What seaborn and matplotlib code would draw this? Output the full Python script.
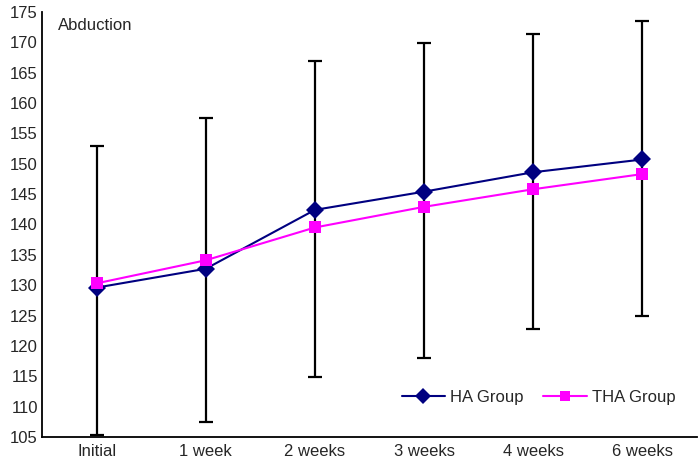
import matplotlib
matplotlib.use("Agg")
import matplotlib.pyplot as plt
import seaborn as sns
import numpy as np
import pandas as pd

categories = ["Initial", "1 week", "2 weeks", "3 weeks", "4 weeks", "6 weeks"]
ha_values = [129.6, 132.7, 142.4, 145.4, 148.6, 150.7]
tha_values = [130.3, 134.1, 139.5, 142.9, 145.8, 148.3]
err_upper = [152.9, 157.5, 167.0, 169.9, 171.3, 173.5]
err_lower = [105.3, 107.5, 114.9, 118.0, 122.8, 124.9]
series_names = ["HA Group", "THA Group"]
y_ticks = list(range(105, 176, 5))

sns.set_theme(style="white")
plt.rcParams["font.family"] = ["Liberation Sans", "DejaVu Sans"]

df = pd.DataFrame({
    "time": categories * 2,
    "value": ha_values + tha_values,
    "group": [series_names[0]] * len(categories) + [series_names[1]] * len(categories),
})

fig = plt.figure(figsize=(7, 4.59), dpi=100)
ax = fig.add_axes([0.06, 0.048, 0.9357, 0.926])

x = np.arange(len(categories))
ha = np.array(ha_values)
yerr = np.vstack([ha - np.array(err_lower), np.array(err_upper) - ha])
ax.errorbar(x, ha, yerr=yerr, fmt="none", ecolor="black", elinewidth=1.6,
            capsize=5, capthick=1.6, zorder=1)

sns.lineplot(data=df, x="time", y="value", hue="group", style="group",
             palette={"HA Group": "#000080", "THA Group": "#FF00FF"},
             markers={"HA Group": "D", "THA Group": "s"}, dashes=False,
             markersize=9, linewidth=1.5, markeredgewidth=0, ax=ax, zorder=3)

ax.set_xlim(-0.5, len(categories) - 0.5)
ax.set_ylim(105, 175)
ax.set_yticks(y_ticks)
ax.set_yticklabels([str(t) for t in y_ticks], fontsize=12)
ax.set_xticks(x)
ax.set_xticklabels(categories, fontsize=12)
ax.set_xticks(np.arange(-0.5, len(categories), 1.0), minor=True)
ax.tick_params(axis="x", which="major", length=0, pad=5)
ax.tick_params(axis="x", which="minor", direction="in", length=6, width=1.2, color="black")
ax.tick_params(axis="y", which="major", direction="in", length=6, width=1.2, color="black", pad=3)
ax.set_xlabel("")
ax.set_ylabel("")
for s in ["top", "right"]:
    ax.spines[s].set_visible(False)
for s in ["left", "bottom"]:
    ax.spines[s].set_color("black")
    ax.spines[s].set_linewidth(1.3)

ax.text(0.024, 0.985, "Abduction", transform=ax.transAxes, fontsize=12,
        ha="left", va="top")

leg = ax.legend(loc="lower right", bbox_to_anchor=(0.99, 0.04), ncol=2, frameon=False,
                fontsize=12, handlelength=2.6, columnspacing=1.2, handletextpad=0.3,
                markerscale=0.85)

fig.savefig("out.png", dpi=100)
